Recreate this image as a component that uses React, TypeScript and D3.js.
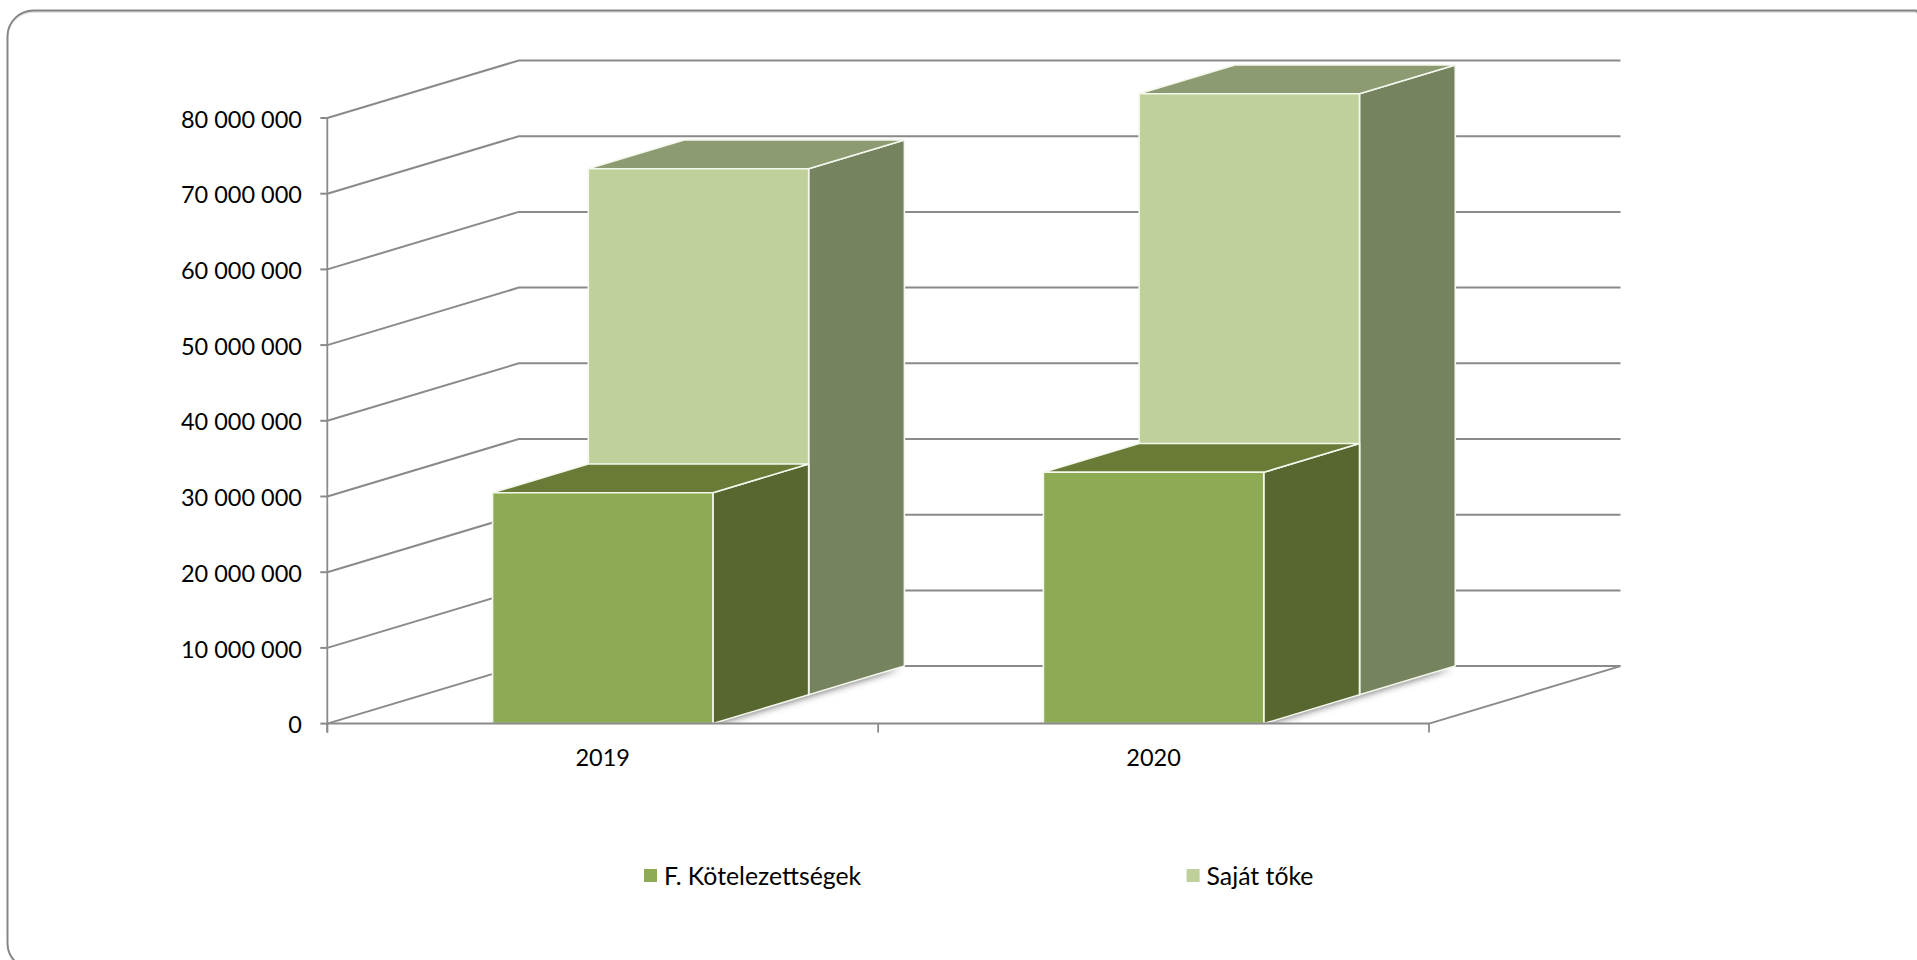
import React from "react";
import * as d3 from "d3";

const years = ["2019", "2020"];
const seriesNames = ["F. Kötelezettségek", "Saját tőke"];
const liabilities = [30500000, 33200000];
const equity = [69500000, 79400000];
const yTicks = [0, 10000000, 20000000, 30000000, 40000000, 50000000, 60000000, 70000000, 80000000];

const seriesValues = [liabilities, equity];
const frontColors = ["#8eaa52", "#bfd09a"];
const sideColors = ["#58672f", "#75835f"];
const topColors = ["#6a7b38", "#8d9b72"];

const W = 1917;
const H = 960;
const FONT = "Lato, 'Open Sans', sans-serif";
const GRID = "#8a8a8a";

const x = d3.scaleBand<string>().domain(years).range([327.3, 1429]).paddingInner(0.6).paddingOuter(0.3);
const y = d3.scaleLinear().domain([0, 80000000]).range([723.6, 118]);
const depthX = d3.scaleLinear().domain([0, 1]).range([0, 191.5]);
const depthY = d3.scaleLinear().domain([0, 1]).range([0, -57.5]);
const rowZ = d3.scaleBand<number>().domain([0, 1]).range([0, 1]);
const fmt = (v: number) => d3.format(",")(v).replace(/,/g, " ");
const line = d3.line();

const P = (px: number, v: number, z: number): [number, number] => [px + depthX(z), y(v) + depthY(z)];
const poly = (pts: [number, number][]) => line(pts) + "Z";

const [x0, x1] = x.range();

function Bar({ cat, row }: { cat: number; row: number }) {
  const v = seriesValues[row][cat];
  const l = x(years[cat])!;
  const r = l + x.bandwidth();
  const z0 = rowZ(row)!;
  const z1 = z0 + rowZ.bandwidth();
  const stroke = { stroke: "#f4f7ec", strokeWidth: 1.6, strokeLinejoin: "round" as const };
  return (
    <g>
      <path d={poly([P(r, 0, z0), P(r, 0, z1), P(r, v, z1), P(r, v, z0)])} fill={sideColors[row]} {...stroke} />
      <path d={poly([P(l, v, z0), P(r, v, z0), P(r, v, z1), P(l, v, z1)])} fill={topColors[row]} {...stroke} />
      <path d={poly([P(l, 0, z0), P(r, 0, z0), P(r, v, z0), P(l, v, z0)])} fill={frontColors[row]} {...stroke} />
    </g>
  );
}

export default function App() {
  const frame = "M 7.5 36 A 26 26 0 0 1 33.5 10.5 L 1916 10.5 L 1945 40 L 1945 969 L 33.5 969 A 26 26 0 0 1 7.5 943 Z";
  return (
    <svg width={W} height={H} style={{ position: "absolute", left: 0, top: 0, display: "block", background: "#fff" }}>
      <defs>
        <filter id="soft" x="-20%" y="-40%" width="140%" height="180%">
          <feGaussianBlur stdDeviation="3.5" />
        </filter>
        <clipPath id="floorClip">
          <rect x={0} y={0} width={W} height={y(0)} />
        </clipPath>
      </defs>

      <path d={frame} transform="translate(0,1.2)" fill="none" stroke="#dcdcdc" strokeWidth={2} />
      <path d={frame} fill="none" stroke="#858585" strokeWidth={1.8} />

      {/* back wall and side wall grid */}
      {yTicks.map((t) => (
        <g key={t} stroke={GRID} fill="none">
          <path d={line([P(x0, t, 0), P(x0, t, 1), P(x1, t, 1)])!} strokeWidth={2} />
          <path d={line([[x0 - 7, y(t)], [x0, y(t)]])!} strokeWidth={2} />
        </g>
      ))}

      {/* floor */}
      <path d={line([P(x1, 0, 0), P(x1, 0, 1)])!} stroke={GRID} strokeWidth={2} fill="none" />

      {/* floor shadows */}
      <g clipPath="url(#floorClip)">
        {years.map((c) => {
          const l = x(c)!;
          const r = l + x.bandwidth();
          return (
            <path
              key={c}
              d={poly([P(l, 0, 0), P(r, 0, 0), P(r, 0, 1), P(l, 0, 1)])}
              transform="translate(-4,3)"
              fill="#555"
              opacity={0.8}
              filter="url(#soft)"
            />
          );
        })}
      </g>

      {/* bars: back row first */}
      {years.map((c, i) => (
        <g key={c}>
          <Bar cat={i} row={1} />
          <Bar cat={i} row={0} />
        </g>
      ))}

      {/* front axis */}
      <path d={line([[x0, y(80000000)], [x0, y(0) + 9]])!} stroke={GRID} strokeWidth={1.8} fill="none" />
      <path d={line([[x0, y(0)], [x1, y(0)]])!} stroke={GRID} strokeWidth={2} fill="none" />
      {[...years.map((c) => x(c)! - x.step() * 0.3), x1].map((t) => (
        <path key={t} d={line([[t, y(0)], [t, y(0) + 9]])!} stroke={GRID} strokeWidth={1.8} fill="none" />
      ))}

      {/* y tick labels */}
      {yTicks.map((t) => (
        <text key={t} x={302} y={y(t) + 1.2} dy="0.36em" textAnchor="end" fontFamily={FONT} fontSize={23.5} fill="#000">
          {fmt(t)}
        </text>
      ))}

      {/* category labels */}
      {years.map((c) => (
        <text key={c} x={x(c)! + x.bandwidth() / 2} y={758} dy="0.36em" textAnchor="middle" fontFamily={FONT} fontSize={23.5} fill="#000">
          {c}
        </text>
      ))}

      {/* legend */}
      {seriesNames.map((n, i) => {
        const lx = [644, 1186.6][i];
        return (
          <g key={n}>
            <rect x={lx} y={869} width={13} height={13} fill={frontColors[i]} />
            <text x={lx + 20} y={876.5} dy="0.36em" fontFamily={FONT} fontSize={24.8} fill="#000">
              {n}
            </text>
          </g>
        );
      })}
    </svg>
  );
}
